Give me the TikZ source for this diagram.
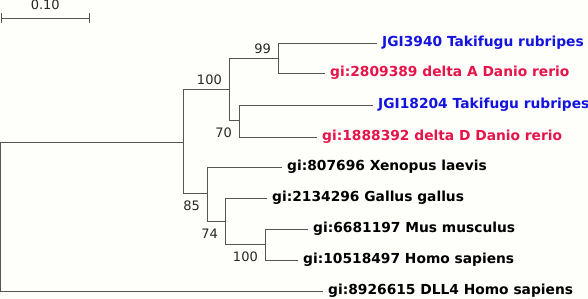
\documentclass[tikz,border=0pt]{standalone}
\usepackage{fontspec}
\setmainfont{DejaVu Sans}
\usetikzlibrary{arrows.meta, positioning}
\definecolor{fugublue}{RGB}{20,20,225}
\definecolor{daniored}{RGB}{230,20,75}
\definecolor{treegray}{RGB}{85,85,85}
\definecolor{paper}{RGB}{254,254,250}

\begin{document}
\begin{tikzpicture}[
  x=1pt, y=-1pt,
  branch/.style={draw=treegray, line width=0.9pt},
  leaf/.style={anchor=mid west, inner sep=0pt, inner xsep=5pt, yshift=-0.5pt, font=\fontsize{13.8}{16}\selectfont\bfseries},
  fugu/.style={leaf, text=fugublue},
  danio/.style={leaf, text=daniored},
  boot/.style={anchor=base east, inner sep=0pt, xshift=-7pt, text=black!85, font=\fontsize{13}{15}\selectfont},
  bootup/.style={boot, yshift=4pt},
  bootdown/.style={boot, yshift=-17.5pt},
]
  \path[use as bounding box, fill=paper] (0,0) rectangle (588,299);

  % ── Scale bar ──────────────────────────────
  \coordinate (sbl) at (0.5,18);
  \coordinate (sbr) at (90,18);
  \draw[branch, {Bar[width=10pt]}-{Bar[width=10pt]}] (sbl) -- node[midway, anchor=base, inner sep=0pt, yshift=8pt, text=black!85, font=\fontsize{13}{15}\selectfont] (sblabel) {0.10} (sbr);

  % ── Internal nodes ─────────────────────────
  \coordinate (root) at (0.5,142);
  \coordinate (nA) at (183,142);
  \coordinate (nB) at (229,89);
  \coordinate (nC) at (278,58);
  \coordinate (nD) at (239,120);
  \coordinate (nE) at (207,193);
  \coordinate (nF) at (225,221);
  \coordinate (nG) at (265,244);

  % ── Leaves ─────────────────────────────────
  \node[fugu] (jgi3940) at (377,43) {JGI3940 Takifugu rubripes};
  \node[danio] (gi2809389) at (325,73) {gi:2809389 delta A Danio rerio};
  \node[fugu] (jgi18204) at (373,105) {JGI18204 Takifugu rubripes};
  \node[danio] (gi1888392) at (317,137) {gi:1888392 delta D Danio rerio};
  \node[leaf] (xenopus) at (282,167) {gi:807696 Xenopus laevis};
  \node[leaf] (gallus) at (267,198) {gi:2134296 Gallus gallus};
  \node[leaf] (mus) at (308,229) {gi:6681197 Mus musculus};
  \node[leaf] (homo) at (298,260) {gi:10518497 Homo sapiens};
  \node[leaf] (dll4) at (323,291) {gi:8926615 DLL4 Homo sapiens};

  % ── Branches ───────────────────────────────
  \draw[branch] (root) |- (nA);
  \draw[branch] (root) |- (dll4.mid west);
  \draw[branch] (nA) |- (nB);
  \draw[branch] (nA) |- (nE);
  \draw[branch] (nB) |- (nC);
  \draw[branch] (nB) |- (nD);
  \draw[branch] (nC) |- (jgi3940.mid west);
  \draw[branch] (nC) |- (gi2809389.mid west);
  \draw[branch] (nD) |- (jgi18204.mid west);
  \draw[branch] (nD) |- (gi1888392.mid west);
  \draw[branch] (nE) |- (xenopus.mid west);
  \draw[branch] (nE) |- (nF);
  \draw[branch] (nF) |- (gallus.mid west);
  \draw[branch] (nF) |- (nG);
  \draw[branch] (nG) |- (mus.mid west);
  \draw[branch] (nG) |- (homo.mid west);

  % ── Bootstrap values ───────────────────────
  \node[bootup] (bsB) at (nB) {100};
  \node[bootup] (bsC) at (nC) {99};
  \node[bootdown] (bsD) at (nD) {70};
  \node[bootdown] (bsE) at (nE) {85};
  \node[bootdown] (bsF) at (nF) {74};
  \node[bootdown] (bsG) at (nG) {100};

\end{tikzpicture}
\end{document}
